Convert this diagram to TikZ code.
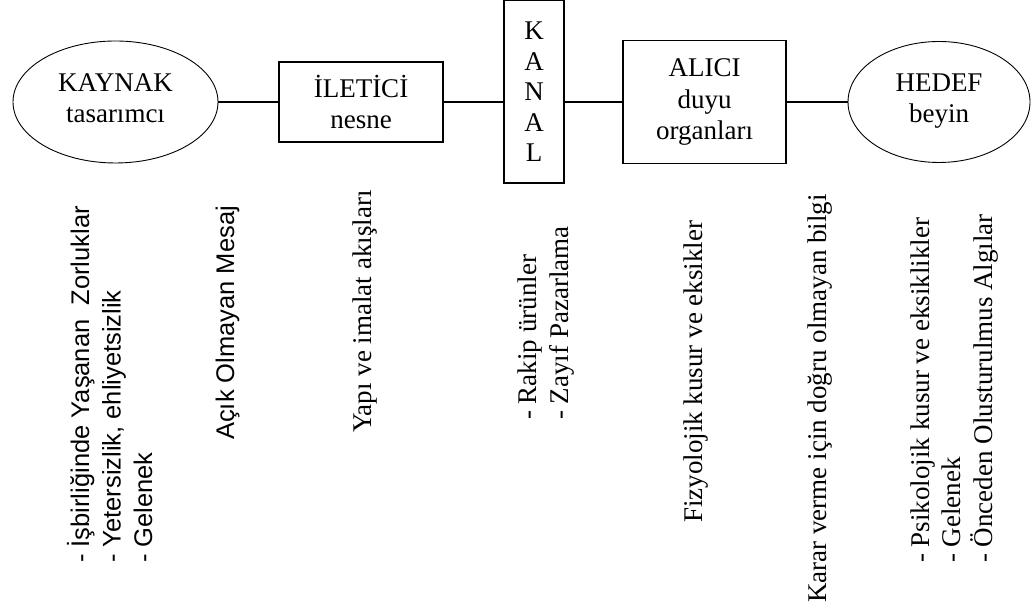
\documentclass[tikz,border=0pt]{standalone}
\usepackage{fontspec}
\setmainfont{Liberation Serif}
\newfontfamily\notesans{Liberation Sans}
\usetikzlibrary{shapes.geometric}
\usetikzlibrary{positioning}
\tikzset{
  part/.style={draw, line width=1.1pt, inner sep=0pt, align=center,
    font=\fontsize{27}{31.5}\selectfont},
  part box/.style={part, rectangle, minimum width=#1},
  part end/.style={part, ellipse, line width=0.9pt, text depth=8pt},
  link/.style={line width=1.1pt},
  noise/.style={rotate=90, anchor=base west, align=left, inner sep=0pt,
    font=\fontsize{27}{31.5}\selectfont},
  noise sans/.style={noise, font=\notesans\fontsize{25.5}{31.5}\selectfont},
}
\begin{document}
\begin{tikzpicture}[x=1pt, y=1pt]
\useasboundingbox (0,0) rectangle (1032,612);
% communication chain
\node[part end, minimum width=205pt, minimum height=122pt] (kaynak) at (115.5,510) {KAYNAK\\tasarımcı};
\node[part box=164pt, minimum height=80pt] (iletici) at (361,510) {İLETİCİ\\nesne};
\node[part box=60pt, minimum height=182.5pt, font=\fontsize{27}{30.5}\selectfont] (kanal) at (534,520.25) {K\\A\\N\\A\\L};
\node[part box=163pt, minimum height=123pt] (alici) at (704.5,510) {ALICI\\duyu\\organları};
\node[part end, minimum width=182pt, minimum height=121pt] (hedef) at (939,510) {HEDEF\\beyin};
\draw[link] (kaynak) -- (iletici);
\draw[link] (iletici.east) -- (iletici.east -| kanal.west);
\draw[link] (kanal.east |- alici.west) -- (alici.west);
\draw[link] (alici) -- (hedef);
% noise under each part (base = last line)
\node[noise sans] (kaynak-noise) at (152,49) {- İşbirliğinde Yaşanan \ Zorluklar\\- Yetersizlik, ehliyetsizlik\\- Gelenek};
\node[noise sans] (mesaj-noise) at (234,172) {Açık Olmayan Mesaj};
\node[noise] (iletici-noise) at (371,179) {Yapı ve imalat akışları};
\node[noise] (kanal-noise) at (568,192) {- Rakip ürünler\\- Zayıf Pazarlama};
\node[noise] (alici-noise) at (702,89) {Fizyolojik kusur ve eksikler};
\node[noise] (bilgi-noise) at (826,9) {Karar verme için doğru olmayan bilgi};
\node[noise] (hedef-noise) at (992,49) {- Psikolojik kusur ve eksiklikler\\- Gelenek\\- Önceden Olusturulmus Algılar};
\end{tikzpicture}
\end{document}
